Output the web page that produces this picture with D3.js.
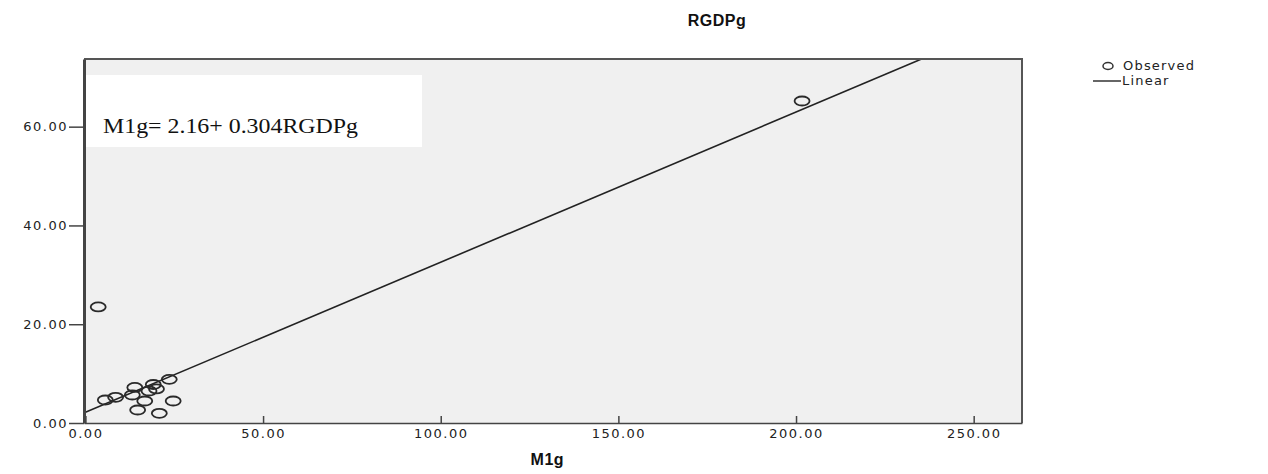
<!DOCTYPE html>
<html lang="en">
<head>
    <meta charset="UTF-8">
    <script src="https://d3js.org/d3.v7.min.js"></script>
    <title>RGDPg vs M1g</title>
    <style>
        body { margin: 0; background: #fff; }
        .tick text { font-family: "DejaVu Sans", sans-serif; font-size: 13px; fill: #222; letter-spacing: 1.5px; }
        .label { font-family: Arial, "Liberation Sans", sans-serif; font-weight: bold; fill: #111; letter-spacing: 0.5px; }
        .legend text { font-family: "DejaVu Sans", sans-serif; font-size: 13px; fill: #222; letter-spacing: 1.2px; }
    </style>
</head>
<body>
<script>
    // observed points (M1g, RGDPg)
    const m1g   = [3.6, 5.6, 8.5, 13.2, 13.9, 14.7, 16.7, 17.9, 19.1, 20.0, 20.8, 23.6, 24.7, 201.7];
    const rgdpg = [23.5, 4.66, 5.2, 5.67, 7.2, 2.63, 4.45, 6.48, 7.8, 6.9, 1.96, 8.84, 4.45, 65.2];
    const xTicks = [0, 50, 100, 150, 200, 250];
    const yTicks = [0, 20, 40, 60];
    const intercept = 2.16, slope = 0.304;
    const equation = 'M1g= 2.16+ 0.304RGDPg';

    const W = 1268, H = 474;
    const margin = { top: 59, right: 246, bottom: 51, left: 84 };

    const svg = d3.select('body').append('svg')
        .attr('width', W)
        .attr('height', H);

    const x = d3.scaleLinear().domain([-0.4, 263.6]).range([margin.left, W - margin.right]);
    const y = d3.scaleLinear().domain([0, 73.7]).range([H - margin.bottom, margin.top]);

    // plot background
    svg.append('rect')
        .attr('x', margin.left).attr('y', margin.top)
        .attr('width', x.range()[1] - x.range()[0])
        .attr('height', y.range()[0] - y.range()[1])
        .attr('fill', '#f0f0f0');

    svg.append('clipPath').attr('id', 'clip')
        .append('rect')
        .attr('x', margin.left).attr('y', margin.top)
        .attr('width', x.range()[1] - x.range()[0])
        .attr('height', y.range()[0] - y.range()[1]);

    // equation box
    svg.append('rect')
        .attr('x', 83).attr('y', 75).attr('width', 339).attr('height', 72)
        .attr('fill', '#fff');
    svg.append('text')
        .attr('x', 103).attr('y', 133)
        .attr('font-family', '"Liberation Serif", "Times New Roman", serif')
        .attr('font-size', 21)
        .attr('textLength', 255)
        .attr('lengthAdjust', 'spacingAndGlyphs')
        .attr('fill', '#111')
        .text(equation);

    // fit line
    const xEnd = (y.domain()[1] - intercept) / slope;
    svg.append('line')
        .attr('clip-path', 'url(#clip)')
        .attr('x1', x(0)).attr('y1', y(intercept))
        .attr('x2', x(xEnd)).attr('y2', y(y.domain()[1]))
        .attr('stroke', '#222').attr('stroke-width', 1.6);

    // points
    svg.append('g').selectAll('ellipse')
        .data(d3.range(m1g.length))
        .join('ellipse')
        .attr('cx', i => x(m1g[i]))
        .attr('cy', i => y(rgdpg[i]))
        .attr('rx', 7.5).attr('ry', 4.5)
        .attr('fill', 'none')
        .attr('stroke', '#2a2a2a')
        .attr('stroke-width', 1.8);

    // frame (top + right)
    svg.append('path')
        .attr('d', `M${x.range()[0]},${y.range()[1]}H${x.range()[1]}V${y.range()[0]}`)
        .attr('fill', 'none').attr('stroke', '#555').attr('stroke-width', 2);

    // axes
    const xAxis = d3.axisBottom(x).tickValues(xTicks).tickSize(7).tickSizeOuter(0)
        .tickFormat(d3.format('.2f'));
    const gx = svg.append('g')
        .attr('transform', `translate(0,${y.range()[0]})`)
        .call(xAxis);

    const yAxis = d3.axisLeft(y).tickValues(yTicks).tickSize(15).tickSizeOuter(0)
        .tickFormat(d3.format('.2f'));
    const gy = svg.append('g')
        .attr('transform', `translate(${x.range()[0]},0)`)
        .call(yAxis);
    gy.selectAll('.tick text').attr('x', -16);

    svg.selectAll('.domain').attr('stroke', '#444');
    gx.select('.domain').attr('stroke-width', 1.5);
    gy.select('.domain').attr('stroke-width', 3);
    svg.selectAll('.tick line').attr('stroke', '#444').attr('stroke-width', 1.5);

    // x ticks point upward into the plot like the reference
    gx.selectAll('.tick line').attr('y2', -7);
    gx.selectAll('.tick text').attr('y', 6).attr('dy', '0.71em');

    // titles
    svg.append('text').attr('class', 'label')
        .attr('x', 717).attr('y', 26)
        .attr('text-anchor', 'middle')
        .attr('font-size', 16)
        .text('RGDPg');
    svg.append('text').attr('class', 'label')
        .attr('x', x(130)).attr('y', 465)
        .attr('text-anchor', 'middle')
        .attr('font-size', 16)
        .text('M1g');

    // legend
    const lg = svg.append('g').attr('class', 'legend');
    lg.append('ellipse')
        .attr('cx', 1108).attr('cy', 66).attr('rx', 5).attr('ry', 3.5)
        .attr('fill', 'none').attr('stroke', '#333').attr('stroke-width', 1.5);
    lg.append('text').attr('x', 1123).attr('y', 70).text('Observed');
    lg.append('line')
        .attr('x1', 1093).attr('x2', 1121).attr('y1', 81).attr('y2', 81)
        .attr('stroke', '#333').attr('stroke-width', 1.5);
    lg.append('text').attr('x', 1122).attr('y', 85).text('Linear');
</script>
</body>
</html>
